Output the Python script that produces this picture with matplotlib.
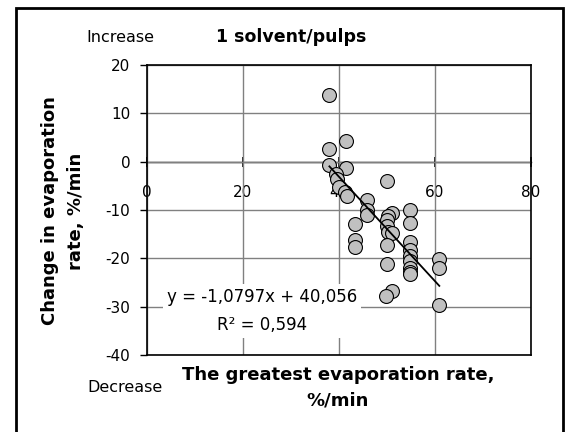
"""Scatter of evaporation rate change vs. greatest evaporation rate (1 solvent/pulps)."""

import matplotlib

matplotlib.use("Agg")
import matplotlib.pyplot as plt
from matplotlib.patches import Rectangle

plt.rcParams["axes.unicode_minus"] = False

# greatest evaporation rate, %/min
greatest_rate = [
    38.0, 38.0, 38.0, 41.5, 41.5, 39.3, 39.6, 39.9, 41.3, 41.6,
    45.8, 45.8, 45.8, 43.3, 43.3, 43.3,
    49.9, 51.0, 50.3, 49.9, 49.9, 50.3, 51.0, 49.9, 49.9, 51.0, 49.8,
    54.8, 54.8, 54.8, 54.8, 54.8, 54.8, 54.8, 54.8, 54.8,
    60.9, 60.9, 60.9,
]
# change in evaporation rate, %/min
rate_change = [
    13.8, 2.7, -0.7, 4.3, -1.4, -2.6, -3.6, -5.3, -6.2, -7.0,
    -7.9, -10.0, -11.0, -12.9, -16.2, -17.7,
    -4.0, -10.7, -11.3, -12.1, -13.3, -14.6, -14.7, -17.2, -21.2, -26.7, -27.8,
    -10.0, -12.6, -16.6, -18.3, -19.6, -20.5, -21.9, -22.8, -23.3,
    -20.2, -21.9, -29.6,
]

# linear trend as printed on the chart
slope = -1.0797
intercept = 40.056
r_squared = "0,594"

x_ticks = [0, 20, 40, 60, 80]
y_ticks = [-40, -30, -20, -10, 0, 10, 20]

W, H = 569, 432
fig = plt.figure(figsize=(W / 100, H / 100), dpi=100)

# outer chart border
fig.add_artist(Rectangle((16 / W, -0.01), 547 / W, 1 - 8 / H + 0.01,
                         transform=fig.transFigure, fill=False,
                         edgecolor="black", linewidth=2))

ax = fig.add_axes([147 / W, 1 - 355 / H, 384 / W, 290 / H])
ax.set_xlim(0, 80)
ax.set_ylim(-40, 20)

ax.scatter(greatest_rate, rate_change, s=100, facecolor="#C0C0C0",
           edgecolor="black", linewidth=0.8, zorder=3)

x_fit = [min(greatest_rate), max(greatest_rate)]
y_fit = [slope * v + intercept for v in x_fit]
ax.plot(x_fit, y_fit, color="black", linewidth=1.3, zorder=4)

# grid and frame
ax.set_xticks(x_ticks)
ax.set_yticks(y_ticks)
ax.grid(True, color="#808080", linewidth=1, zorder=0)
ax.tick_params(axis="x", length=0, labelbottom=False)
ax.tick_params(axis="y", direction="out", length=5, width=1, pad=7,
               labelsize=11)
for sp in ax.spines.values():
    sp.set_color("black")
    sp.set_linewidth(1.2)

# horizontal value axis crossing at y = 0
sec = ax.secondary_xaxis(2 / 3)
sec.set_xticks(x_ticks)
sec.xaxis.set_ticks_position("bottom")
sec.xaxis.set_label_position("bottom")
sec.tick_params(direction="inout", length=7, width=1.2, pad=13,
                labelsize=11, bottom=True, top=False,
                labelbottom=True, labeltop=False)
for side in ("top", "bottom"):
    sec.spines[side].set_linewidth(1)

# trend line equation
ax.text(0.30, 0.152, f"y = {slope:.4f}x + {intercept:.3f}".replace(".", ",")
        + f"\nR² = {r_squared}",
        transform=ax.transAxes, ha="center", va="center", fontsize=12,
        linespacing=1.75, zorder=5,
        bbox=dict(facecolor="white", edgecolor="none", pad=3))

fig.text(291 / W, 1 - 37 / H, "1 solvent/pulps", ha="center", va="center",
         fontsize=12.5, fontweight="bold")
fig.text(120 / W, 1 - 38 / H, "Increase", ha="center", va="center",
         fontsize=11.5)
fig.text(125 / W, 1 - 388 / H, "Decrease", ha="center", va="center",
         fontsize=11.5)
fig.text(338 / W, 1 - 388 / H, "The greatest evaporation rate,\n%/min",
         ha="center", va="center", multialignment="center", fontsize=13,
         fontweight="bold", linespacing=1.5)
fig.text(63 / W, 1 - 211 / H, "Change in evaporation\nrate, %/min",
         ha="center", va="center", multialignment="center", rotation=90,
         fontsize=13, fontweight="bold", linespacing=1.5)

fig.savefig("out.png", dpi=100)
